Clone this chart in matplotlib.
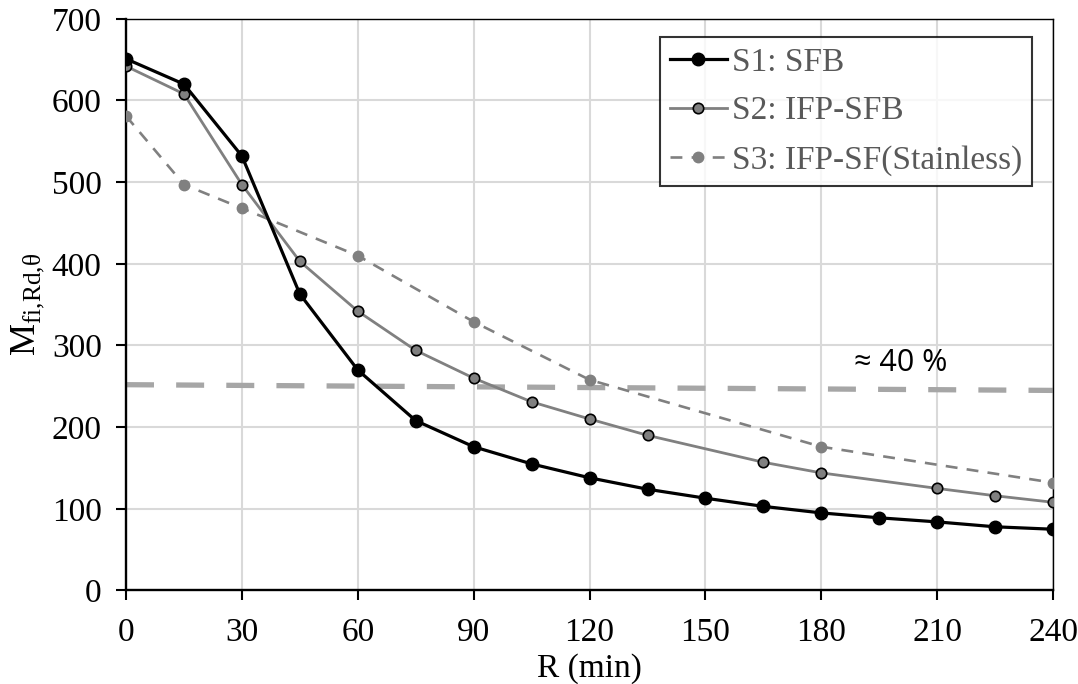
import matplotlib
matplotlib.use("Agg")
import matplotlib.pyplot as plt

plt.rcParams['font.family'] = ['Liberation Serif', 'DejaVu Serif']
plt.rcParams['mathtext.fontset'] = 'custom'
plt.rcParams['mathtext.rm'] = 'Liberation Serif'

# S1: SFB
x1 = [0, 15, 30, 45, 60, 75, 90, 105, 120, 135, 150, 165, 180, 195, 210, 225, 240]
y1 = [651, 620, 532, 363, 270, 208, 176, 155, 138, 124, 113, 103, 95, 89, 84, 78, 75]
# S2: IFP-SFB
x2 = [0, 15, 30, 45, 60, 75, 90, 105, 120, 135, 165, 180, 210, 225, 240]
y2 = [642, 608, 497, 403, 342, 294, 260, 231, 210, 190, 157, 144, 125, 116, 108]
# S3: IFP-SF(Stainless)
x3 = [0, 15, 30, 60, 90, 120, 180, 240]
y3 = [581, 497, 468, 410, 329, 258, 176, 132]
# 40 % reference line
xr = [0, 240]
yr = [252, 245]

fig = plt.figure(figsize=(10.78, 6.84), dpi=100)
ax = fig.add_axes([0.1169, 0.1367, 0.86, 0.8358])

ax.plot(xr, yr, color='#A6A6A6', lw=3.8, dashes=(5.3, 4.2), zorder=2)
ax.plot(x1, y1, color='black', lw=2.3, marker='o', ms=9,
        mfc='black', mec='black', label='S1: SFB', zorder=5)
ax.plot(x2, y2, color='#808080', lw=2.0, marker='o', ms=7.5,
        mfc='#808080', mec='black', mew=1.2, label='S2: IFP-SFB', zorder=4)
ax.plot(x3, y3, color='#808080', lw=1.9, ls=(0, (4.5, 3.5)), marker='o', ms=7.5,
        mfc='#808080', mec='#808080', label='S3: IFP-SF(Stainless)', zorder=3)

ax.text(200.5, 278, '\u2248 40 %', fontsize=22, family=['Open Sans', 'DejaVu Sans'],
        ha='center', va='center')

ax.set_xlim(0, 240)
ax.set_ylim(0, 700)
ax.set_xticks(range(0, 241, 30))
ax.set_yticks(range(0, 701, 100))
ax.grid(color='#D9D9D9', lw=1.5)
ax.set_axisbelow(True)
ax.tick_params(labelsize=24, direction='out', length=7.5, width=1.5)
ax.tick_params(axis='y', pad=10)
ax.tick_params(axis='x', pad=12)
for side in ['left', 'bottom']:
    ax.spines[side].set_linewidth(1.7)
for side in ['top', 'right']:
    ax.spines[side].set_linewidth(1.0)

ax.set_xlabel('R (min)', fontsize=24, labelpad=4)
ax.set_ylabel(r'$\mathrm{M}_{\mathrm{fi{,}Rd{,}θ}}$', fontsize=26, labelpad=4)

leg = ax.legend(loc='upper right', fontsize=24, frameon=True, fancybox=False,
                edgecolor='black', handlelength=1.7, handletextpad=0.15,
                borderpad=0.3, labelspacing=0.55, borderaxespad=0,
                bbox_to_anchor=(0.977, 0.968))
leg.get_frame().set_linewidth(1.5)
for t in leg.get_texts():
    t.set_color('#595959')

fig.savefig('out.png', dpi=100)
